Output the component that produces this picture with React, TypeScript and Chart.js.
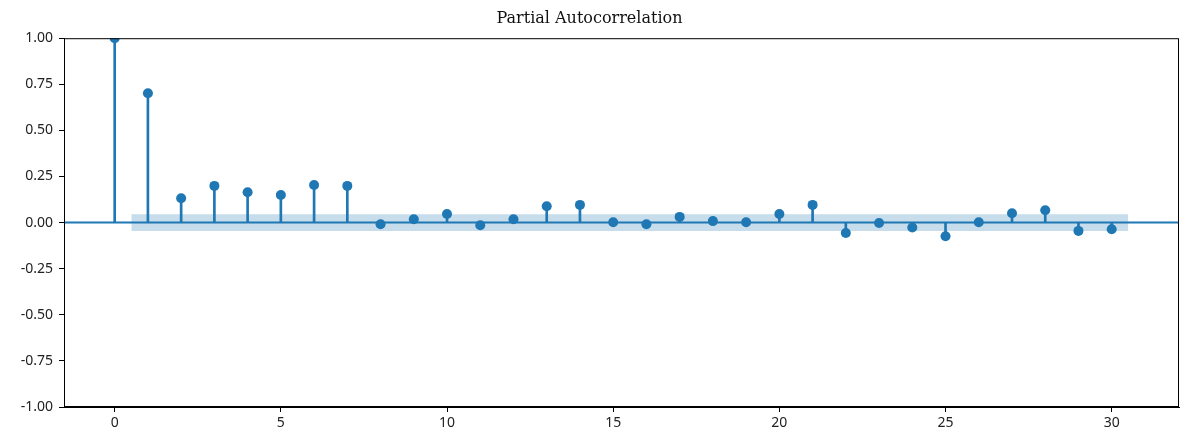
import React, { useEffect, useRef } from "react";
import { Chart, registerables } from "chart.js";

Chart.register(...registerables);

const lags: number[] = Array.from({ length: 31 }, (_, i) => i);
const pacfValues: number[] = [
  1.0, 0.701, 0.132, 0.199, 0.165, 0.15, 0.204, 0.199, -0.009, 0.018,
  0.047, -0.014, 0.018, 0.089, 0.096, 0.002, -0.009, 0.031, 0.008, 0.002,
  0.047, 0.096, -0.056, -0.002, -0.027, -0.074, 0.002, 0.051, 0.067, -0.045,
  -0.036,
];
const confBand: number = 0.045;
const bandStart = 0.5;
const bandEnd = 30.5;
const xMin = -1.525;
const xMax = 32.025;
const yTicks: number[] = [-1, -0.75, -0.5, -0.25, 0, 0.25, 0.5, 0.75, 1];
const xTicks: number[] = [0, 5, 10, 15, 20, 25, 30];
const titleText = "Partial Autocorrelation";

const BLUE = "#1f77b4";
const tickFont = { family: "'Noto Sans', sans-serif", size: 14 };

export default function App() {
  const ref = useRef<HTMLCanvasElement | null>(null);

  useEffect(() => {
    document.body.style.margin = "0";
    const ctx = ref.current!.getContext("2d")!;
    const framePlugin = {
      id: "frame",
      afterDraw(chart: any) {
        const { ctx: c, chartArea: a } = chart;
        c.save();
        c.strokeStyle = "#000";
        c.lineWidth = 1;
        c.strokeRect(a.left + 0.5, a.top + 0.5, a.right - a.left - 1, a.bottom - a.top - 1);
        c.restore();
      },
    };
    const chart = new Chart(ctx, {
      type: "bar",
      data: {
        datasets: [
          {
            type: "line",
            label: "band-upper",
            data: [
              { x: bandStart, y: confBand },
              { x: bandEnd, y: confBand },
            ],
            borderWidth: 0,
            pointRadius: 0,
            borderColor: "rgba(0,0,0,0)",
            fill: false,
            order: 10,
          } as any,
          {
            type: "line",
            label: "band-lower",
            data: [
              { x: bandStart, y: -confBand },
              { x: bandEnd, y: -confBand },
            ],
            borderWidth: 0,
            pointRadius: 0,
            borderColor: "rgba(0,0,0,0)",
            backgroundColor: "rgba(31,119,180,0.25)",
            fill: "-1",
            order: 9,
          } as any,
          {
            type: "line",
            label: "zero",
            data: [
              { x: xMin, y: 0 },
              { x: xMax, y: 0 },
            ],
            borderColor: BLUE,
            borderWidth: 2,
            pointRadius: 0,
            fill: false,
            order: 5,
          } as any,
          {
            type: "bar",
            label: "stems",
            data: lags.map((l, i) => ({ x: l, y: pacfValues[i] })),
            backgroundColor: BLUE,
            borderWidth: 0,
            barThickness: 2,
            order: 4,
          } as any,
          {
            type: "scatter",
            label: "markers",
            data: lags.map((l, i) => ({ x: l, y: pacfValues[i] })),
            backgroundColor: BLUE,
            borderColor: BLUE,
            pointRadius: 5,
            borderWidth: 0,
            order: 1,
          } as any,
        ],
      },
      options: {
        animation: false,
        responsive: false,
        maintainAspectRatio: false,
        layout: { padding: { left: 0, right: 11, top: 0, bottom: 0 } },
        plugins: {
          legend: { display: false },
          tooltip: { enabled: false },
          title: {
            display: true,
            text: titleText,
            color: "#111",
            font: { family: "'DejaVu Serif', serif", size: 16, weight: "normal", lineHeight: 1.2 },
            padding: { top: 9, bottom: 10 },
          },
        },
        scales: {
          x: {
            type: "linear",
            min: xMin,
            max: xMax,
            offset: false,
            afterBuildTicks: (s: any) => {
              s.ticks = xTicks.map((v) => ({ value: v }));
            },
            afterFit: (s: any) => {
              s.height = 39;
            },
            grid: {
              display: true,
              offset: false,
              drawOnChartArea: false,
              drawTicks: true,
              tickLength: 5,
              color: "#000",
              tickColor: "#000",
            },
            border: { display: true, color: "#000" },
            ticks: {
              color: "#222",
              font: tickFont,
              padding: 3,
              maxRotation: 0,
              autoSkip: false,
              callback: (v: any) => String(v),
            },
          },
          y: {
            type: "linear",
            min: -1,
            max: 1,
            afterBuildTicks: (s: any) => {
              s.ticks = yTicks.map((v) => ({ value: v }));
            },
            afterFit: (s: any) => {
              s.width = 64;
            },
            grid: {
              display: true,
              offset: false,
              drawOnChartArea: false,
              drawTicks: true,
              tickLength: 5,
              color: "#000",
              tickColor: "#000",
            },
            border: { display: true, color: "#000" },
            ticks: {
              color: "#222",
              font: tickFont,
              padding: 6,
              autoSkip: false,
              callback: (v: any) => Number(v).toFixed(2),
            },
          },
        },
      },
      plugins: [framePlugin],
    } as any);
    return () => chart.destroy();
  }, []);

  return (
    <div style={{ position: "absolute", left: 0, top: 0, width: 1190, height: 446, background: "#fff" }}>
      <canvas ref={ref} width={1190} height={446} style={{ width: 1190, height: 446 }} />
    </div>
  );
}
